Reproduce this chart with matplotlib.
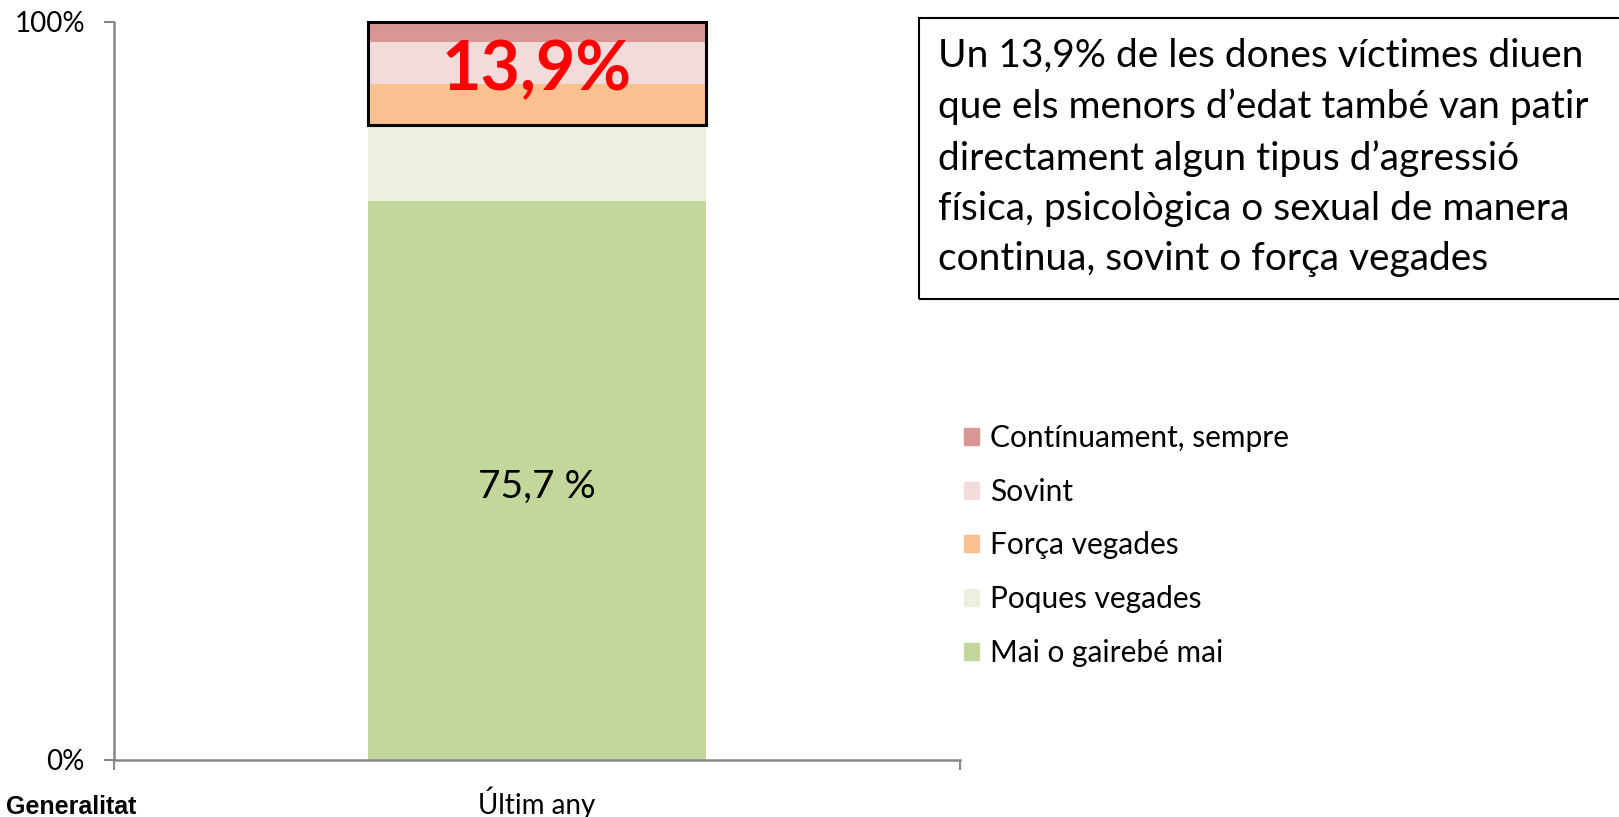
import matplotlib.pyplot as plt
from matplotlib.patches import Rectangle, Patch

categories = ["Últim any"]
series_names = ["Mai o gairebé mai", "Poques vegades", "Força vegades",
                "Sovint", "Contínuament, sempre"]
series_values = [75.7, 10.4, 5.5, 5.7, 2.7]
series_colors = ["#C4D79B", "#EBF1DE", "#FAC090", "#F2DCDB", "#D99694"]
highlight_label = "13,9%"
base_label = "75,7 %"
note_text = ("Un 13,9% de les dones víctimes diuen\n"
             "que els menors d’edat també van patir\n"
             "directament algun tipus d’agressió\n"
             "física, psicològica o sexual de manera\n"
             "continua, sovint o força vegades")

plt.rcParams["font.family"] = ["Lato", "DejaVu Sans"]

W, H = 1619, 817
fig = plt.figure(figsize=(W / 100, H / 100), dpi=100)
ax = fig.add_axes([114 / W, 1 - 760 / H, (960 - 114) / W, (760 - 22) / H])

bar_w = 0.4
bottom = 0
for name, val, col in zip(series_names, series_values, series_colors):
    ax.bar(0, val, width=bar_w, bottom=bottom, color=col, label=name)
    bottom += val

# box around the top three segments
hl_bottom = series_values[0] + series_values[1]
hl_top = sum(series_values)
ax.add_patch(Rectangle((-bar_w / 2, hl_bottom), bar_w, hl_top - hl_bottom,
                       fill=False, edgecolor="black", linewidth=2.2,
                       clip_on=False, zorder=5))
ax.text(0, (hl_bottom + hl_top) / 2 + 0.3, highlight_label, ha="center",
        va="center", color="#FF0000", fontsize=49, fontweight="bold", zorder=6)
ax.text(0, series_values[0] * 0.49, base_label, ha="center", va="center",
        fontsize=28, color="black")

ax.set_xlim(-0.5, 0.5)
ax.set_ylim(0, 100)
ax.set_yticks([0, 100])
ax.set_yticklabels(["0%", "100%"], fontsize=20)
ax.set_xticks([-0.5, 0.5])
ax.set_xticklabels(["", ""])
ax.tick_params(axis="y", length=7, width=1.5, color="#868686", pad=14)
ax.tick_params(axis="x", length=7, width=1.5, color="#868686")
ax.text(0, -3.6, categories[0], ha="center", va="top", fontsize=20)
for s in ["top", "right"]:
    ax.spines[s].set_visible(False)
for s in ["left", "bottom"]:
    ax.spines[s].set_color("#868686")
    ax.spines[s].set_linewidth(1.8)

handles = [Patch(color=c) for c in series_colors][::-1]
fig.legend(handles, series_names[::-1], loc="upper left",
           bbox_to_anchor=(952 / W, 1 - 412 / H), frameon=False,
           fontsize=21.5, handlelength=0.5, handleheight=0.5,
           handletextpad=0.38, labelspacing=0.86, borderaxespad=0)

# note box on the right, running past the figure edge
fig.patches.append(Rectangle((919 / W, 1 - 299 / H), 720 / W, 281 / H,
                             transform=fig.transFigure, fill=False,
                             edgecolor="black", linewidth=1.5))
fig.text(938 / W, 1 - 38 / H, note_text, ha="left", va="top", fontsize=28,
         linespacing=1.49)

fig.text(6 / W, 1 - 795 / H, "Generalitat", ha="left", va="top",
         fontsize=18, fontweight="bold", family="Liberation Sans")

fig.savefig("out.png", dpi=100)
